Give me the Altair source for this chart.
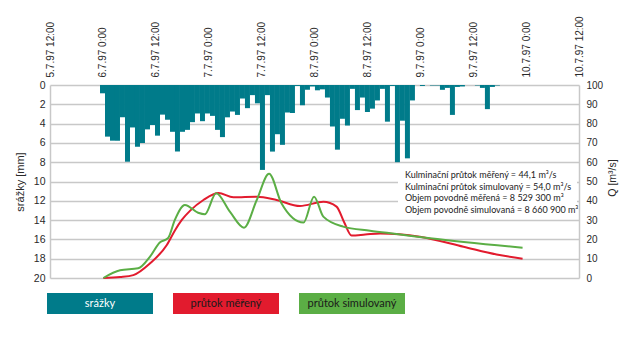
import altair as alt
import pandas as pd

# ---------------- data ----------------
x_tick_hours = [0, 12, 24, 36, 48, 60, 72, 84, 96, 108, 120]
x_tick_labels = ["5.7.97 12:00", "6.7.97 0:00", "6.7.97 12:00", "7.7.97 0:00",
                 "7.7.97 12:00", "8.7.97 0:00", "8.7.97 12:00", "9.7.97 0:00",
                 "9.7.97 12:00", "10.7.97 0:00", "10.7.97 12:00"]

rain_start_hour = 11.34
rain_step_hours = 1.134
rain_mm = [0.86, 5.35, 5.77, 5.77, 3.35, 7.95, 4.4, 6.4, 6.0, 4.6,
           4.15, 5.25, 3.07, 3.6, 4.85, 6.9, 4.85, 4.65, 3.85, 2.95,
           3.75, 2.95, 3.2, 4.65, 5.4, 3.35, 2.75, 3.1, 1.4, 2.4,
           1.05, 1.9, 8.8, 1.05, 6.9, 5.1, 6.2, 2.85, 2.9, 0.1,
           2.1, 0.5, 0.15, 0.55, 0.45, 1.3, 4.3, 6.7, 3.5, 4.2,
           0.4, 2.6, 1.3, 2.8, 2.45, 1.6, 0.4, 3.8, 0.1, 8.0,
           3.7, 7.6, 1.6, 0.0, 0.1, 0.0, 0.05, 0.05, 0.5, 0.3,
           3.1, 0.2, 0.15, 0.0, 0.0, 0.05, 0.3, 2.5, 0.2, 0.05]

meas_hours = [12.1, 15.9, 18.9, 22.7, 26.5, 28.4, 29.9, 31.8, 34.8, 38.2, 41.6,
              46.9, 51.4, 56.7, 62.0, 65.0, 66.7, 68.4, 71.5, 74.9, 83.9,
              93.8, 101.3, 107.2]
meas_q = [0.0, 0.5, 1.5, 7.6, 17.1, 24.9, 30.1, 34.9, 40.4, 44.1, 41.8,
          42.1, 40.4, 37.3, 39.5, 37.0, 29.0, 22.0, 22.5, 23.1, 21.4,
          16.2, 12.2, 10.0]

sim_hours = [12.1, 15.9, 20.0, 22.7, 24.9, 26.8, 28.3, 30.6, 33.6, 35.1, 37.7,
             40.8, 44.0, 46.9, 49.7, 52.5, 57.5, 59.9, 62.0, 66.5, 72.6,
             78.6, 86.2, 107.2]
sim_q = [0.0, 4.0, 5.0, 11.1, 18.4, 20.7, 30.0, 37.8, 33.8, 33.0, 43.9,
         34.4, 26.1, 40.4, 54.0, 38.7, 28.7, 42.1, 31.8, 26.6, 24.5,
         22.8, 20.6, 15.7]

mm_ticks = [0, 2, 4, 6, 8, 10, 12, 14, 16, 18, 20]
q_ticks = [0, 10, 20, 30, 40, 50, 60, 70, 80, 90, 100]

series_names = ["průtok měřený", "průtok simulovaný"]
legend_labels = ["srážky", "průtok měřený", "průtok simulovaný"]
annotation_lines = [
    "Kulminační průtok měřený = 44,1 m³/s",
    "Kulminační průtok simulovaný = 54,0 m³/s",
    "Objem povodně měřená = 8 529 300 m³",
    "Objem povodně simulovaná = 8 660 900 m³",
]

# ---------------- style ----------------
TEAL = "#007B8A"
RED = "#E21B2E"
GREEN = "#5BAE45"
GRID = "#C8C8C8"
TXT = "#2a2a2a"
AXFONT = "Liberation Sans"
ANFONT = "Lato"

W, H = 529, 193

rain_df = pd.DataFrame({
    "t0": [rain_start_hour + i * rain_step_hours for i in range(len(rain_mm))],
    "mm": rain_mm,
})
rain_df["t1"] = rain_df["t0"] + rain_step_hours
rain_df["zero"] = 0.0

flow_df = pd.concat([
    pd.DataFrame({"t": meas_hours, "q": meas_q, "s": series_names[0]}),
    pd.DataFrame({"t": sim_hours, "q": sim_q, "s": series_names[1]}),
], ignore_index=True)

x_scale = alt.Scale(domain=[0, 120], nice=False, zero=False)
label_expr = "[" + ",".join("'" + s + "'" for s in x_tick_labels) + "][round(datum.value/12)]"
x_axis = alt.Axis(orient="top", values=x_tick_hours, labelExpr=label_expr,
                  labelAngle=270, labelAlign="left", labelBaseline="middle",
                  grid=False, ticks=False, domain=False, title=None,
                  labelPadding=8, labelFontSize=10, labelFont=AXFONT,
                  labelColor=TXT, labelOverlap=False)

bars = alt.Chart(rain_df).mark_rect(color=TEAL).encode(
    x=alt.X("t0:Q", scale=x_scale, axis=x_axis),
    x2="t1:Q",
    y=alt.Y("mm:Q", scale=alt.Scale(domain=[0, 20], reverse=True, nice=False, zero=False),
            axis=alt.Axis(orient="left", values=mm_ticks, title="srážky [mm]",
                          grid=True, gridColor=GRID, gridWidth=1.5,
                          ticks=False, domain=True, domainColor=GRID, domainWidth=1.5,
                          labelPadding=5, labelFontSize=10.5, labelFont=AXFONT,
                          labelColor=TXT, titleFont=AXFONT, titleFontSize=11,
                          titleFontWeight="normal", titleColor=TXT,
                          titleX=-30, titleY=H / 2, titleAngle=270,
                          titleAlign="center", titleBaseline="middle")),
    y2="zero:Q",
)

lines = alt.Chart(flow_df).mark_line(interpolate="monotone", strokeWidth=2).encode(
    x=alt.X("t:Q", scale=x_scale, axis=x_axis),
    y=alt.Y("q:Q", scale=alt.Scale(domain=[0, 100], nice=False),
            axis=alt.Axis(orient="right", values=q_ticks, title="Q [m³/s]",
                          grid=False, ticks=False, domain=True, domainColor=GRID,
                          domainWidth=1.5, labelPadding=7, labelFontSize=10,
                          labelFont=AXFONT, labelColor=TXT, titleFont=AXFONT,
                          titleFontSize=10.5, titleFontWeight="normal",
                          titleColor=TXT, titleAngle=270,
                          titleX=33, titleY=H / 2 - 4,
                          titleAlign="center", titleBaseline="middle")),
    color=alt.Color("s:N", scale=alt.Scale(domain=series_names, range=[RED, GREEN]),
                    legend=None),
)

one = alt.Data(values=[{}])

ann_box = alt.Chart(one).mark_rect(color="white").encode(
    x=alt.value(348), x2=alt.value(527), y=alt.value(84), y2=alt.value(131))

ann_layers = []
for i, line in enumerate(annotation_lines):
    ann_layers.append(
        alt.Chart(one).mark_text(text=line, align="left", baseline="middle",
                                 font=ANFONT, fontSize=9, color="#222222").encode(
            x=alt.value(355), y=alt.value(90 + 11.7 * i)))

legend_colors = [TEAL, RED, GREEN]
legend_text_colors = ["white", "#1a1a1a", "#1a1a1a"]
legend_layers = []
for i, lab in enumerate(legend_labels):
    x0 = -3 + 126 * i
    legend_layers.append(
        alt.Chart(one).mark_rect(color=legend_colors[i]).encode(
            x=alt.value(x0), x2=alt.value(x0 + 106), y=alt.value(208), y2=alt.value(229)))
    legend_layers.append(
        alt.Chart(one).mark_text(text=lab, align="center", baseline="middle",
                                 font=ANFONT, fontSize=11,
                                 color=legend_text_colors[i]).encode(
            x=alt.value(x0 + 53), y=alt.value(218.5)))

chart = alt.layer(bars, lines, ann_box, *ann_layers, *legend_layers).resolve_scale(
    y="independent"
).properties(
    width=W, height=H,
    autosize=alt.AutoSizeParams(type="none"),
    padding={"left": 50, "top": 85, "right": 57, "bottom": 79},
    background="white",
).configure_view(stroke=None)

chart.save("out.html", embed_options={"renderer": "svg", "actions": False})
